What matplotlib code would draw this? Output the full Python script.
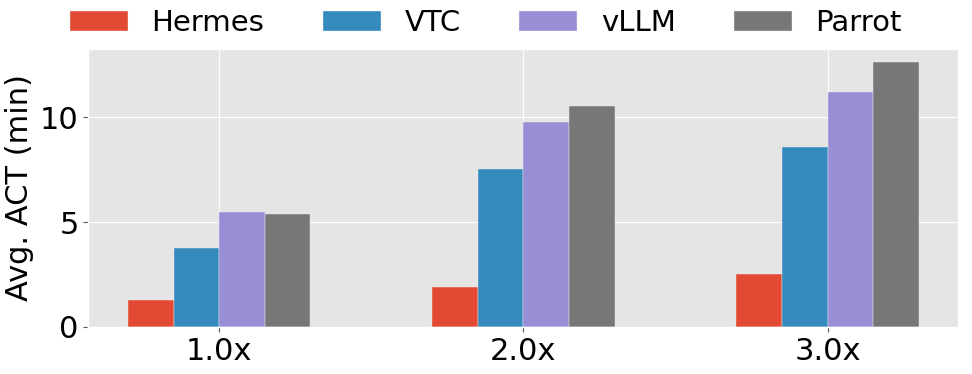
import numpy as np
import matplotlib
matplotlib.use("Agg")
import matplotlib.pyplot as plt

plt.style.use("ggplot")

# ---- Data ----
loads = ["1.0x", "2.0x", "3.0x"]
systems = ["Hermes", "VTC", "vLLM", "Parrot"]
hermes = [1.27, 1.90, 2.52]
vtc = [3.78, 7.51, 8.56]
vllm = [5.46, 9.76, 11.22]
parrot = [5.40, 10.54, 12.62]
series = [hermes, vtc, vllm, parrot]
colors = ["#E24A33", "#348ABD", "#988ED5", "#777777"]

x = np.arange(len(loads))
width = 0.15

fig, ax = plt.subplots(figsize=(9.72, 3.74), dpi=100)
for i, (name, vals) in enumerate(zip(systems, series)):
    ax.bar(x + (i - 1.5) * width, vals, width, label=name, color=colors[i],
           edgecolor="#EEEEEE", linewidth=0.3)

ax.set_xticks(x)
ax.set_xticklabels(loads)
ax.set_yticks([0, 5, 10])
ax.tick_params(axis="both", labelsize=22, labelcolor="black")
ax.set_ylabel("Avg. ACT (min)", fontsize=22, color="black")

fig.legend(loc="upper center", bbox_to_anchor=(0.5, 1.045), ncol=4,
           frameon=False, fontsize=21)
plt.subplots_adjust(left=0.091, right=0.986, top=0.869, bottom=0.126)
plt.savefig("out.png", dpi=100)
